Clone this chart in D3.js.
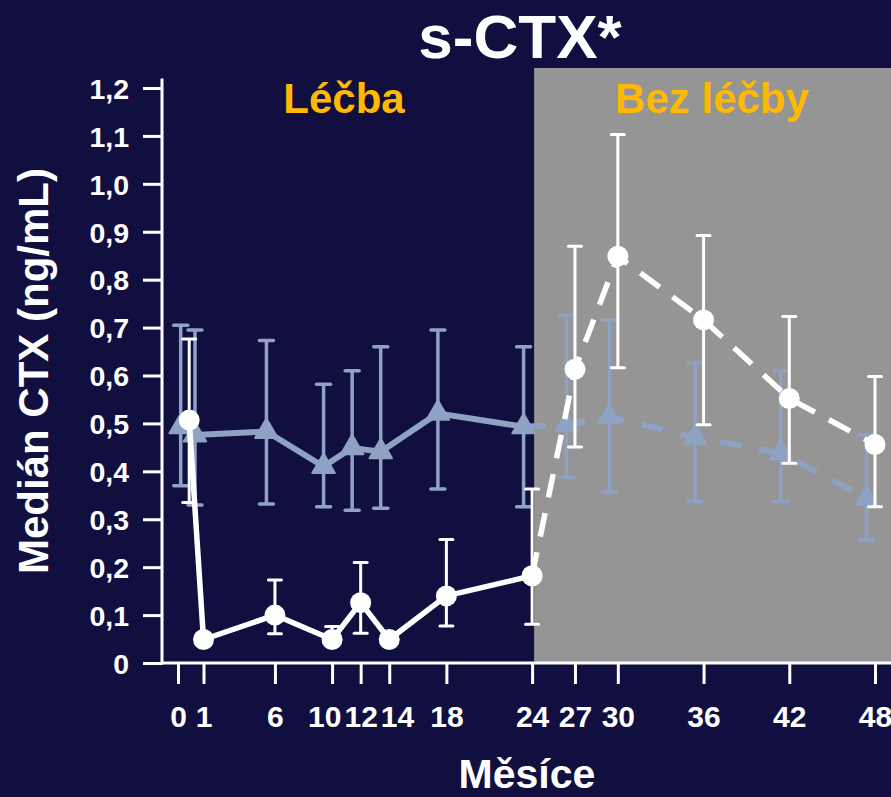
<!DOCTYPE html>
<html><head><meta charset="utf-8">
<script src="https://cdn.jsdelivr.net/npm/d3@7"></script>
<style>
html,body{margin:0;padding:0;background:#110f3f;}
svg{display:block;font-family:"Liberation Sans",Arial,sans-serif;font-weight:bold;}
</style></head>
<body><svg id="c" width="891" height="797"></svg>
<script>
// ---- data ----
const months      = [0, 1, 6, 10, 12, 14, 18, 24, 27, 30, 36, 42, 48];
const tickLabels  = ["0","1","6","10","12","14","18","24","27","30","36","42","48"];
const yTicks      = [0,0.1,0.2,0.3,0.4,0.5,0.6,0.7,0.8,0.9,1.0,1.1,1.2];
const treatedMed  = [0.507,0.049,0.100,0.049,0.126,0.049,0.140,0.182,0.613,0.849,0.716,0.552,0.456];
const treatedLo   = [0.335,null,0.061,0.040,0.062,null,0.077,0.081,0.451,0.616,0.497,0.417,0.326];
const treatedHi   = [0.676,null,0.173,0.076,0.210,null,0.258,0.363,0.870,1.103,0.892,0.723,0.598];
const placeboMed  = [0.493,0.476,0.483,0.410,0.449,0.441,0.521,0.493,0.497,0.514,0.471,0.438,0.344];
const placeboLo   = [0.370,0.330,0.332,0.326,0.319,0.323,0.363,0.326,0.387,0.357,0.337,0.337,0.257];
const placeboHi   = [0.705,0.695,0.673,0.582,0.610,0.660,0.695,0.660,0.726,0.716,0.627,0.610,0.477];
const offTreatmentFrom = 24;
const title = "s-CTX*";
const phaseLabels = ["Léčba","Bez léčby"];
const yTitle = "Medián CTX (ng/mL)";
const xTitle = "Měsíce";

// ---- styles ----
const NAVY="#110f3f", GRAY="#959595", ORANGE="#ffb900", BLUE="#8fa2c3", WHITE="#ffffff";

const W=891,H=797;
const svg=d3.select("#c");
svg.append("rect").attr("width",W).attr("height",H).attr("fill",NAVY);

const y=d3.scaleLinear().domain([0,1.2]).range([663,88]);
const x=d3.scaleLinear().domain([1,48]).range([203.5,875]);          // data positions
const xAxisScale=d3.scaleLinear().domain([0,1,48]).range([178,203.5,875]); // tick positions
const dodge=-8.5;
const axisX=162;

// off-treatment shaded region
svg.append("rect").attr("x",x(offTreatmentFrom)+2).attr("y",68)
  .attr("width",W-(x(offTreatmentFrom)+2)).attr("height",y(0)-68).attr("fill",GRAY);

// title
svg.append("text").attr("x",520).attr("y",58).attr("text-anchor","middle")
  .attr("fill",WHITE).attr("font-size",62).text(title);
svg.append("text").attr("x",344).attr("y",113).attr("text-anchor","middle")
  .attr("fill",ORANGE).attr("font-size",42).text(phaseLabels[0]);
svg.append("text").attr("x",712).attr("y",113).attr("text-anchor","middle")
  .attr("fill",ORANGE).attr("font-size",42).text(phaseLabels[1]);

// axes
const yAxis=d3.axisLeft(y).tickValues(yTicks).tickSize(19).tickPadding(14)
  .tickFormat(d=>d===0?"0":d3.format(".1f")(d).replace(".",","));
const gy=svg.append("g").attr("transform",`translate(${axisX},0)`).call(yAxis);
gy.select(".domain").remove();
gy.selectAll("line").attr("stroke",WHITE).attr("stroke-width",3);
gy.selectAll("text").attr("fill",WHITE).attr("font-size",28.5).attr("font-family",null).attr("dy","0.36em");
svg.append("line").attr("x1",axisX).attr("x2",axisX).attr("y1",y(1.22)).attr("y2",y(0)+1.5)
  .attr("stroke",WHITE).attr("stroke-width",3);

const xAxis=d3.axisBottom(xAxisScale).tickValues(months).tickSize(21)
  .tickFormat((d,i)=>tickLabels[i]);
const gx=svg.append("g").attr("transform",`translate(0,${y(0)})`).call(xAxis);
gx.select(".domain").remove();
gx.selectAll("line").attr("stroke",WHITE).attr("stroke-width",3);
const xt=gx.selectAll("text").attr("fill",WHITE).attr("font-size",30).attr("font-family",null)
  .attr("y",64).attr("dy",0);
// spread crowded tick labels apart (simple relaxation)
(function(){
  const nodes=xt.nodes();
  const c=months.map(m=>xAxisScale(m));
  const w=nodes.map(n=>n.getComputedTextLength());
  for(let it=0;it<200;it++){
    for(let i=0;i<c.length-1;i++){
      const need=(w[i]+w[i+1])/2+3, gap=c[i+1]-c[i];
      if(gap<need){const s=(need-gap)/2;c[i]-=s;c[i+1]+=s;}
    }
  }
  nodes.forEach((n,i)=>d3.select(n).attr("x",c[i]-xAxisScale(months[i])));
})();
svg.append("line").attr("x1",axisX).attr("x2",W).attr("y1",y(0)).attr("y2",y(0))
  .attr("stroke",WHITE).attr("stroke-width",3);

// axis titles
svg.append("text").attr("transform",`translate(48,371) rotate(-90)`).attr("text-anchor","middle")
  .attr("fill",WHITE).attr("font-size",42).text(yTitle);
svg.append("text").attr("x",527).attr("y",788).attr("text-anchor","middle")
  .attr("fill",WHITE).attr("font-size",41).text(xTitle);

// series helpers
const placebo=months.map((m,i)=>({m,v:placeboMed[i],lo:placeboLo[i],hi:placeboHi[i]}));
const treated=months.map((m,i)=>({m,v:treatedMed[i],lo:treatedLo[i],hi:treatedHi[i]}));

function errorBars(g,data,dx,color,sw,cap){
  const d=data.filter(p=>p.lo!=null);
  g.selectAll(null).data(d).enter().append("line")
    .attr("x1",p=>x(p.m)+dx).attr("x2",p=>x(p.m)+dx)
    .attr("y1",p=>y(p.hi)).attr("y2",p=>y(p.lo))
    .attr("stroke",color).attr("stroke-width",sw);
  ["hi","lo"].forEach(k=>{
    g.selectAll(null).data(d).enter().append("line")
      .attr("x1",p=>x(p.m)+dx-cap/2).attr("x2",p=>x(p.m)+dx+cap/2)
      .attr("y1",p=>y(p[k])).attr("y2",p=>y(p[k]))
      .attr("stroke",color).attr("stroke-width",sw).attr("stroke-linecap","round");
  });
}
function lines(g,data,dx,color,sw,dash){
  const line=d3.line().x(p=>x(p.m)+dx).y(p=>y(p.v));
  g.append("path").datum(data.filter(p=>p.m<=offTreatmentFrom)).attr("d",line)
    .attr("fill","none").attr("stroke",color).attr("stroke-width",sw).attr("stroke-linejoin","round");
  g.append("path").datum(data.filter(p=>p.m>=offTreatmentFrom)).attr("d",line)
    .attr("fill","none").attr("stroke",color).attr("stroke-width",sw).attr("stroke-dasharray",dash);
}

// placebo (triangles)
const gp=svg.append("g");
errorBars(gp,placebo,dodge,BLUE,3.5,14);
lines(gp,placebo,dodge,BLUE,6,"22,18");
gp.selectAll(null).data(placebo).enter().append("path")
  .attr("d",d3.symbol(d3.symbolTriangle,220))
  .attr("transform",p=>`translate(${x(p.m)+dodge},${y(p.v)})`)
  .attr("fill",BLUE).attr("stroke",BLUE).attr("stroke-width",2).attr("stroke-linejoin","round");

// treated (circles)
const gt=svg.append("g");
errorBars(gt,treated,0,WHITE,3,13);
lines(gt,treated,0,WHITE,5.5,"24,16");
gt.selectAll(null).data(treated).enter().append("circle")
  .attr("cx",p=>x(p.m)).attr("cy",p=>y(p.v)).attr("r",10.5).attr("fill",WHITE);
</script></body></html>
